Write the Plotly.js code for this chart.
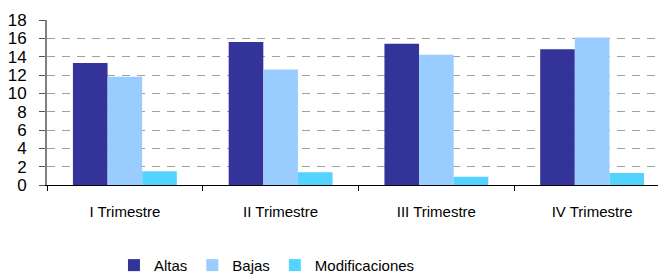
<!DOCTYPE html>
<html><head><meta charset="utf-8">
<script src="https://cdn.plot.ly/plotly-3.0.1.min.js"></script>
<style>html,body{margin:0;padding:0;background:#fff;overflow:hidden}</style>
</head><body><div id="chart" style="width:659px;height:275px"></div>
<script>
const categories = ["I Trimestre", "II Trimestre", "III Trimestre", "IV Trimestre"];
const altas = [13.3, 15.6, 15.4, 14.8];
const bajas = [11.8, 12.6, 14.2, 16.1];
const modificaciones = [1.5, 1.4, 0.9, 1.3];
const yTicks = [0, 2, 4, 6, 8, 10, 12, 14, 16, 18];

const fam = "Liberation Sans, Arial, sans-serif";
const font = {family: fam, size: 17, color: "#000"};
const data = [
  {type: "bar", name: "Altas", x: categories, y: altas, marker: {color: "#333399"}},
  {type: "bar", name: "Bajas", x: categories, y: bajas, marker: {color: "#99CCFF"}},
  {type: "bar", name: "Modificaciones", x: categories, y: modificaciones, marker: {color: "#55D3FF"}}
];
const layout = {
  width: 659, height: 275,
  margin: {l: 47, r: 1, t: 20, b: 90, autoexpand: false},
  paper_bgcolor: "#fff", plot_bgcolor: "#fff",
  font: font,
  barmode: "group", bargap: 0.333, bargroupgap: 0,
  showlegend: true,
  legend: {orientation: "h", x: 0.36, xanchor: "center", yref: "container", y: 0.035, yanchor: "middle",
           font: {family: fam, size: 15, color: "#000"}, itemwidth: 30, traceorder: "normal"},
  xaxis: {type: "category", range: [-0.5, 3.423], tickson: "boundaries",
          ticks: "outside", ticklen: 5, tickcolor: "#000", showline: true, linecolor: "#000",
          linewidth: 1, showgrid: false, ticklabelstandoff: 13,
          tickfont: {family: fam, size: 15, color: "#000"}},
  yaxis: {range: [0, 18], tickvals: yTicks, ticktext: yTicks.map(String),
          ticks: "outside", ticklen: 6, tickcolor: "#555", showline: true, linecolor: "#808080",
          linewidth: 2, showgrid: true, gridcolor: "#a0a0a0", griddash: "8px,7px", gridwidth: 1,
          zeroline: false, tickfont: {size: 17, color: "#000"}, ticklabelstandoff: 9}
};
Plotly.newPlot("chart", data, layout, {displayModeBar: false, staticPlot: true});
</script></body></html>
